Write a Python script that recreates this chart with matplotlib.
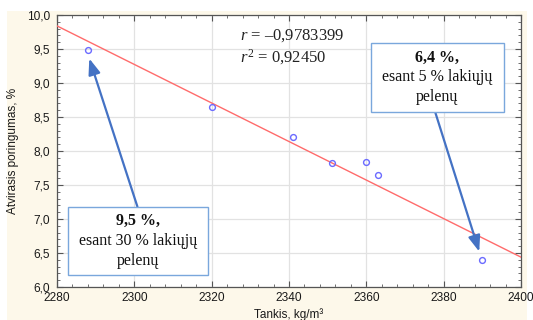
import matplotlib
matplotlib.use("Agg")
import matplotlib.pyplot as plt
import numpy as np
from matplotlib.patches import Rectangle
from matplotlib.ticker import MultipleLocator, FuncFormatter

# measured points
density = [2288, 2320, 2341, 2351, 2360, 2363, 2390]
porosity = [9.49, 8.65, 8.20, 7.82, 7.84, 7.65, 6.39]

r_text = "$r$ = \u20130,9783399"
r2_text = "$r^2$ = 0,92450"

# callouts: box (x0, y0, x1, y1) in data units, lines, arrow tail -> head
box_right = (2361.2, 8.574, 2395.6, 9.588)
lines_right = ["6,4 %,", "esant 5 % lakiųjų", "pelenų"]
arrow_right = ((2377.8, 8.574), (2389.2, 6.52))

box_left = (2282.9, 6.176, 2319.0, 7.181)
lines_left = ["9,5 %,", "esant 30 % lakiųjų", "pelenų"]
arrow_left = ((2300.8, 7.181), (2288.35, 9.36))

plt.rcParams['mathtext.fontset'] = 'custom'
plt.rcParams['mathtext.rm'] = 'Liberation Serif'
plt.rcParams['mathtext.it'] = 'Liberation Serif:italic'

W, H = 533, 320
fig = plt.figure(figsize=(W / 100, H / 100), dpi=100, facecolor='white')
fig.patches.append(Rectangle((7 / W, 0), 520 / W, 1 - 11 / H, transform=fig.transFigure,
                             facecolor='#fdf8ea', edgecolor='none', zorder=-10))

ax = fig.add_axes([57 / W, 1 - 287 / H, 464 / W, 272 / H])
ax.set_facecolor('white')

fit = np.polyfit(density, porosity, 1)
xs = np.array([2280, 2400])
ax.plot(xs, np.polyval(fit, xs), color='#ff6b6b', lw=1.0, zorder=3)
ax.plot(density, porosity, 'o', mfc='none', mec='#6b6bff', ms=4.2, mew=1.0, zorder=4)

ax.set_xlim(2280, 2400)
ax.set_ylim(6.0, 10.0)
ax.xaxis.set_major_locator(MultipleLocator(20))
ax.xaxis.set_minor_locator(MultipleLocator(4))
ax.yaxis.set_major_locator(MultipleLocator(0.5))
ax.yaxis.set_minor_locator(MultipleLocator(0.1))
ax.yaxis.set_major_formatter(FuncFormatter(lambda v, p: f"{v:.1f}".replace('.', ',')))
ax.grid(True, which='major', color='#e2e2e2', lw=0.9, zorder=0)
ax.set_axisbelow(True)
for s in ax.spines.values():
    s.set_color('#555555')
    s.set_linewidth(0.9)
ax.tick_params(which='both', direction='in', top=True, right=True, color='#555555',
               labelsize=8.6, labelcolor='#1a1a1a', labelfontfamily='Liberation Sans')
ax.tick_params(which='major', length=4, width=0.8)
ax.tick_params(which='minor', length=2.5, width=0.6)
ax.tick_params(axis='y', pad=5)
ax.tick_params(axis='x', pad=3.5)

fig.text(289 / W, 1 - 314.5 / H, "Tankis, kg/m³", ha='center', va='center',
         fontsize=8.5, family='Liberation Sans', color='#1a1a1a')
fig.text(13 / W, 1 - 151 / H, "Atvirasis poringumas, %", ha='center', va='center',
         rotation=90, fontsize=8.5, family='Liberation Sans', color='#1a1a1a')

fig.text(240 / W, 1 - 36 / H, r_text, ha='left', va='center', fontsize=12,
         family='Liberation Serif', color='#222222')
fig.text(240 / W, 1 - 57 / H, r2_text, ha='left', va='center', fontsize=12,
         family='Liberation Serif', color='#222222')

blue = '#4472c4'
for box, lines, arrow in [(box_right, lines_right, arrow_right), (box_left, lines_left, arrow_left)]:
    x0, y0, x1, y1 = box
    ax.add_patch(Rectangle((x0, y0), x1 - x0, y1 - y0, facecolor='white',
                           edgecolor='#7aa7dc', lw=1.0, zorder=6))
    cx = (x0 + x1) / 2
    step = (y1 - y0) / 3.45
    for i, txt in enumerate(lines):
        ax.text(cx, y1 - step * (0.72 + i), txt, ha='center', va='center', fontsize=11.5,
                family='Liberation Serif', fontweight='bold' if i == 0 else 'normal',
                color='#111111', zorder=7)
    ax.annotate('', xy=arrow[1], xytext=arrow[0],
                arrowprops=dict(arrowstyle='-|>,head_length=0.8,head_width=0.3', color=blue,
                                lw=1.6, mutation_scale=12, shrinkA=0, shrinkB=0),
                zorder=5)

fig.savefig('out.png', dpi=100, facecolor=fig.get_facecolor())
